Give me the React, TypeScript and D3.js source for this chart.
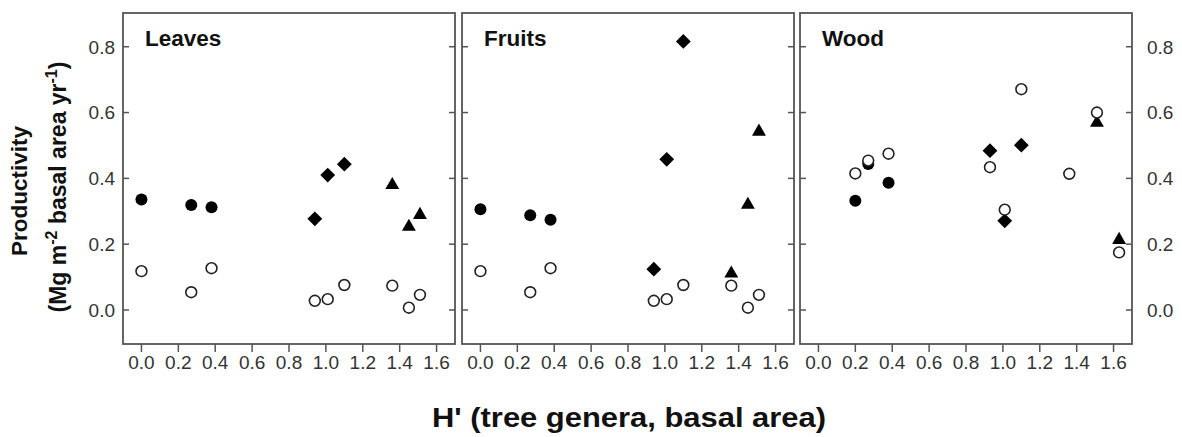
import React from "react";
import * as d3 from "d3";

// H' (tree genera, basal area) per site
const hLeafFruit = [0.0, 0.27, 0.38, 0.94, 1.01, 1.10, 1.36, 1.45, 1.51];
const hWood = [0.20, 0.27, 0.38, 0.93, 1.01, 1.10, 1.36, 1.51, 1.63];
// forest type symbol per site
const siteSymbols = ["circle", "circle", "circle", "diamond", "diamond", "diamond", "triangle", "triangle", "triangle"];

// filled symbols (productivity)
const leavesFilled = [0.336, 0.319, 0.312, 0.277, 0.41, 0.443, 0.38, 0.253, 0.289];
const fruitsFilled = [0.306, 0.288, 0.274, 0.124, 0.458, 0.816, 0.111, 0.32, 0.542];
const woodFilled: (number | null)[] = [0.332, 0.444, 0.387, 0.484, 0.271, 0.501, null, 0.569, 0.213];

// open circles
const leavesOpen = [0.118, 0.054, 0.127, 0.028, 0.033, 0.076, 0.074, 0.007, 0.046];
const fruitsOpen = [0.118, 0.054, 0.127, 0.028, 0.033, 0.076, 0.074, 0.007, 0.046];
const woodOpen = [0.415, 0.454, 0.475, 0.434, 0.305, 0.671, 0.414, 0.6, 0.175];

const panelTitles = ["Leaves", "Fruits", "Wood"];
const xTicks = [0, 0.2, 0.4, 0.6, 0.8, 1.0, 1.2, 1.4, 1.6];
const yTicks = [0, 0.2, 0.4, 0.6, 0.8];

const W = 1182;
const H = 437;
const top = 13;
const bottom = 344;
const panelLefts = [123, 462, 800];
const panelWidth = 332;
const FONT = "Arial, 'Liberation Sans', Helvetica, sans-serif";
const AXIS = "#555";
const TXT = "#333";

const y = d3.scaleLinear().domain([-0.1033, 0.9025]).range([bottom, top]);

const symPath = (type: string) => {
  if (type === "circle") return d3.symbol(d3.symbolCircle, Math.PI * 6 * 6)()!;
  if (type === "diamond") return "M0,-7.4L7.4,0L0,7.4L-7.4,0Z";
  return d3.symbol(d3.symbolTriangle, 84)()!;
};

const panels = [
  { title: panelTitles[0], xs: hLeafFruit, filled: leavesFilled, open: leavesOpen },
  { title: panelTitles[1], xs: hLeafFruit, filled: fruitsFilled, open: fruitsOpen },
  { title: panelTitles[2], xs: hWood, filled: woodFilled, open: woodOpen },
];

export default function App() {
  return (
    <svg
      width={W}
      height={H}
      style={{ position: "absolute", left: 0, top: 0, background: "#fff" }}
      fontFamily={FONT}
    >
      <rect x={0} y={0} width={W} height={H} fill="#fff" />
      {panels.map((p, pi) => {
        const left = panelLefts[pi];
        const right = left + panelWidth;
        const x = d3.scaleLinear().domain([-0.1, 1.7]).range([left, right]);
        return (
          <g key={pi}>
            {yTicks.map((t) => (
              <g key={t}>
                <line x1={left} x2={left + 6} y1={y(t)} y2={y(t)} stroke={AXIS} strokeWidth={1.5} />
                <line x1={right - 6} x2={right} y1={y(t)} y2={y(t)} stroke={AXIS} strokeWidth={1.5} />
              </g>
            ))}
            {pi === 0 &&
              yTicks.map((t) => (
                <text key={"yl" + t} x={left - 8} y={y(t) + 6.8} textAnchor="end" fontSize={19} fill={TXT}>
                  {t.toFixed(1)}
                </text>
              ))}
            {pi === 2 &&
              yTicks.map((t) => (
                <text key={"yr" + t} x={right + 15} y={y(t) + 6.8} textAnchor="start" fontSize={19} fill={TXT}>
                  {t.toFixed(1)}
                </text>
              ))}
            {xTicks.map((t) => (
              <g key={"x" + t}>
                <line x1={x(t)} x2={x(t)} y1={bottom} y2={bottom + 8} stroke={AXIS} strokeWidth={1.5} />
                <text x={x(t)} y={369} textAnchor="middle" fontSize={19} fill={TXT}>
                  {t.toFixed(1)}
                </text>
              </g>
            ))}
            <rect x={left} y={top} width={panelWidth} height={bottom - top} fill="none" stroke={AXIS} strokeWidth={1.8} />
            <text x={left + 22} y={46} fontSize={22.5} fontWeight="bold" fill="#111">
              {p.title}
            </text>
            {p.filled.map((v, i) =>
              v == null ? null : (
                <path
                  key={"f" + i}
                  d={symPath(siteSymbols[i])}
                  transform={`translate(${x(p.xs[i])},${y(v)})`}
                  fill="#000"
                />
              )
            )}
            {p.open.map((v, i) => (
              <circle
                key={"o" + i}
                cx={x(p.xs[i])}
                cy={y(v)}
                r={5.4}
                fill="#fff"
                stroke="#222"
                strokeWidth={1.6}
              />
            ))}
          </g>
        );
      })}
      <text transform="translate(27,191) rotate(-90)" textAnchor="middle" fontSize={22.5} fontWeight="bold" fill="#111">
        Productivity
      </text>
      <text transform="translate(66,187) rotate(-90)" textAnchor="middle" fontSize={23} fontWeight="bold" fill="#111">
        <tspan>(Mg m</tspan>
        <tspan dy={-9} fontSize={16}>-2</tspan>
        <tspan dy={9}> basal area yr</tspan>
        <tspan dy={-9} fontSize={16}>-1</tspan>
        <tspan dy={9}>)</tspan>
      </text>
      <text x={629} y={427} textAnchor="middle" fontSize={27} fontWeight="bold" fill="#111" textLength={394} lengthAdjust="spacingAndGlyphs">
        H' (tree genera, basal area)
      </text>
    </svg>
  );
}
